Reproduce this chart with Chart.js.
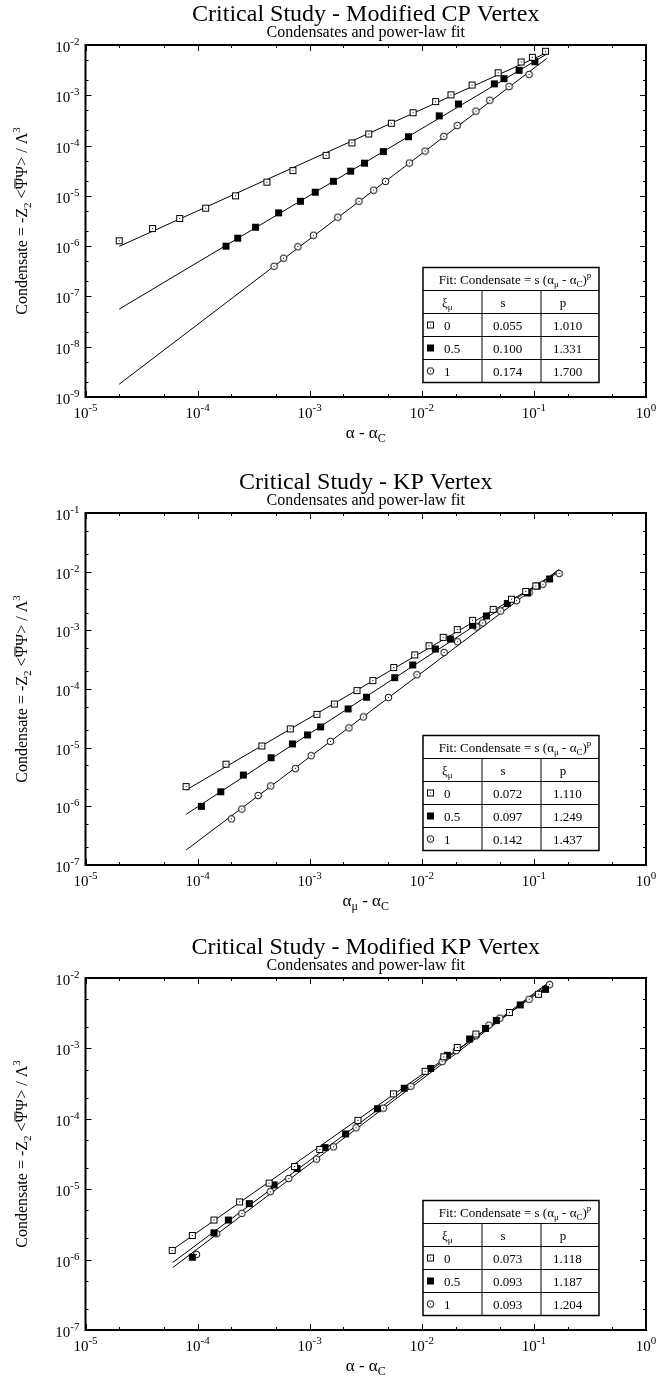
<!DOCTYPE html>
<html>
<head>
<meta charset="utf-8">
<script src="https://cdn.jsdelivr.net/npm/chart.js@4.4.1/dist/chart.umd.min.js"></script>
<style>
  body { margin: 0; background: #fff; }
  canvas { position: absolute; left: 0; }
</style>
</head>
<body>
<canvas id="cp" width="657" height="468" style="top:0px"></canvas>
<canvas id="kp" width="657" height="465" style="top:468px"></canvas>
<canvas id="mkp" width="657" height="449" style="top:933px"></canvas>
<script>
// ---- Modified CP Vertex ----
const cpX0 = [2.0e-5, 3.96e-5, 6.93e-5, 1.18e-4, 2.18e-4, 4.15e-4, 7.08e-4, 1.40e-3, 2.38e-3, 3.36e-3, 5.35e-3, 8.36e-3, 1.33e-2, 1.82e-2, 2.81e-2, 4.80e-2, 7.69e-2, 9.70e-2, 1.27e-1];
const cpY0 = [1.28e-6, 2.24e-6, 3.55e-6, 5.7e-6, 1.0e-5, 1.87e-5, 3.18e-5, 6.4e-5, 1.13e-4, 1.7e-4, 2.78e-4, 4.5e-4, 7.5e-4, 1.02e-3, 1.6e-3, 2.8e-3, 4.6e-3, 5.7e-3, 7.5e-3];
const cpX05 = [1.79e-4, 2.28e-4, 3.29e-4, 5.28e-4, 8.26e-4, 1.12e-3, 1.63e-3, 2.32e-3, 3.08e-3, 4.54e-3, 7.60e-3, 1.43e-2, 2.12e-2, 4.44e-2, 5.41e-2, 7.38e-2, 1.02e-1];
const cpY05 = [1.0e-6, 1.44e-6, 2.38e-6, 4.6e-6, 7.8e-6, 1.18e-5, 1.95e-5, 3.1e-5, 4.47e-5, 7.6e-5, 1.5e-4, 3.9e-4, 6.7e-4, 1.69e-3, 2.14e-3, 3.14e-3, 4.67e-3];
const cpX1 = [4.81e-4, 5.86e-4, 7.85e-4, 1.08e-3, 1.78e-3, 2.75e-3, 3.72e-3, 4.74e-3, 7.74e-3, 1.07e-2, 1.57e-2, 2.07e-2, 3.04e-2, 4.04e-2, 6.00e-2, 9.06e-2];
const cpY1 = [3.98e-7, 5.75e-7, 9.7e-7, 1.65e-6, 3.77e-6, 7.8e-6, 1.3e-5, 1.93e-5, 4.5e-5, 7.76e-5, 1.52e-4, 2.5e-4, 4.85e-4, 7.97e-4, 1.49e-3, 2.6e-3];
const cpFitX = [2e-5, 0.13];
const cpFitY0 = [9.9e-7, 7.0e-3];
const cpFitY05 = [5.6e-8, 6.6e-3];
const cpFitY1 = [1.8e-9, 5.4e-3];
const cpS = ["0.055", "0.100", "0.174"];
const cpP = ["1.010", "1.331", "1.700"];

// ---- KP Vertex ----
const kpX0 = [7.89e-5, 1.79e-4, 3.74e-4, 6.71e-4, 1.16e-3, 1.66e-3, 2.64e-3, 3.66e-3, 5.62e-3, 8.65e-3, 1.16e-2, 1.55e-2, 2.07e-2, 2.84e-2, 4.33e-2, 6.31e-2, 8.45e-2, 1.04e-1];
const kpY0 = [2.17e-6, 5.24e-6, 1.07e-5, 2.09e-5, 3.7e-5, 5.54e-5, 9.4e-5, 1.39e-4, 2.32e-4, 3.81e-4, 5.47e-4, 7.6e-4, 1.03e-3, 1.48e-3, 2.28e-3, 3.39e-3, 4.6e-3, 5.7e-3];
const kpX05 = [1.08e-4, 1.61e-4, 2.56e-4, 4.52e-4, 7.01e-4, 9.57e-4, 1.25e-3, 2.20e-3, 3.21e-3, 5.73e-3, 8.30e-3, 1.32e-2, 1.80e-2, 2.84e-2, 3.77e-2, 5.79e-2, 8.75e-2, 1.07e-1, 1.38e-1];
const kpY05 = [1.0e-6, 1.77e-6, 3.42e-6, 6.74e-6, 1.16e-5, 1.65e-5, 2.26e-5, 4.58e-5, 7.25e-5, 1.56e-4, 2.57e-4, 4.8e-4, 7.1e-4, 1.22e-3, 1.76e-3, 2.86e-3, 4.35e-3, 5.7e-3, 7.5e-3];
const kpX1 = [2.0e-4, 2.48e-4, 3.47e-4, 4.49e-4, 7.45e-4, 1.03e-3, 1.53e-3, 2.24e-3, 3.01e-3, 5.04e-3, 9.04e-3, 1.58e-2, 2.08e-2, 3.09e-2, 3.49e-2, 5.05e-2, 7.00e-2, 9.06e-2, 1.20e-1, 1.68e-1];
const kpY1 = [6.1e-7, 9.0e-7, 1.53e-6, 2.23e-6, 4.4e-6, 7.3e-6, 1.28e-5, 2.17e-5, 3.34e-5, 7.16e-5, 1.75e-4, 4.2e-4, 6.4e-4, 1.14e-3, 1.34e-3, 2.14e-3, 3.2e-3, 4.4e-3, 6.1e-3, 9.3e-3];
const kpFitX = [7.9e-5, 0.168];
const kpFitY0 = [1.9e-6, 9.9e-3];
const kpFitY05 = [7.3e-7, 1.05e-2];
const kpFitY1 = [1.8e-7, 1.1e-2];
const kpS = ["0.072", "0.097", "0.142"];
const kpP = ["1.110", "1.249", "1.437"];

// ---- Modified KP Vertex ----
const mkpX0 = [5.94e-5, 8.97e-5, 1.40e-4, 2.37e-4, 4.34e-4, 7.33e-4, 1.23e-3, 2.69e-3, 5.58e-3, 1.07e-2, 1.57e-2, 2.07e-2, 3.04e-2, 6.05e-2, 1.10e-1];
const mkpY0 = [1.35e-6, 2.2e-6, 3.65e-6, 6.6e-6, 1.22e-5, 2.1e-5, 3.67e-5, 9.5e-5, 2.26e-4, 4.73e-4, 7.6e-4, 1.03e-3, 1.6e-3, 3.23e-3, 5.87e-3];
const mkpX05 = [8.97e-5, 1.40e-4, 1.88e-4, 2.89e-4, 4.81e-4, 7.71e-4, 1.37e-3, 2.09e-3, 4.02e-3, 6.97e-3, 1.20e-2, 1.69e-2, 2.67e-2, 3.70e-2, 4.62e-2, 7.55e-2, 1.27e-1];
const mkpY05 = [1.08e-6, 2.4e-6, 3.65e-6, 6.24e-6, 1.15e-5, 1.97e-5, 3.9e-5, 6.1e-5, 1.39e-4, 2.72e-4, 5.2e-4, 8.0e-4, 1.36e-3, 1.92e-3, 2.49e-3, 4.15e-3, 6.9e-3];
const mkpX1 = [9.77e-5, 1.48e-4, 2.48e-4, 4.45e-4, 6.50e-4, 1.15e-3, 1.63e-3, 2.59e-3, 4.54e-3, 8.00e-3, 1.52e-2, 2.03e-2, 3.04e-2, 3.97e-2, 4.97e-2, 9.06e-2, 1.38e-1];
const mkpY1 = [1.18e-6, 2.33e-6, 4.54e-6, 9.2e-6, 1.42e-5, 2.67e-5, 4.0e-5, 7.46e-5, 1.42e-4, 2.9e-4, 6.5e-4, 9.3e-4, 1.51e-3, 2.14e-3, 2.69e-3, 4.99e-3, 8.05e-3];
const mkpFitX = [6e-5, 0.14];
const mkpFitY0 = [1.39e-6, 8.1e-3];
const mkpFitY05 = [9.1e-7, 9.0e-3];
const mkpFitY1 = [7.7e-7, 8.7e-3];
const mkpS = ["0.073", "0.093", "0.093"];
const mkpP = ["1.118", "1.187", "1.204"];

const xiLabels = ["0", "0.5", "1"];

const FONT = "'Liberation Serif', 'Times New Roman', 'DejaVu Serif', serif";
const PLOT_H = 352;

// markers
function marker(kind) {
  const c = document.createElement("canvas");
  c.width = 9; c.height = 9;
  const g = c.getContext("2d");
  g.strokeStyle = "#000"; g.fillStyle = "#fff"; g.lineWidth = 1;
  if (kind === "sq") {
    g.fillRect(1, 1, 7, 7);
    g.strokeRect(1.5, 1.5, 6, 6);
    g.fillStyle = "#000"; g.fillRect(4, 4, 1, 1);
  } else if (kind === "fill") {
    g.fillStyle = "#000"; g.fillRect(1, 1, 7, 7);
  } else {
    g.beginPath(); g.arc(4.5, 4.5, 3.3, 0, Math.PI * 2);
    g.fill(); g.stroke();
    g.fillStyle = "#000"; g.fillRect(4, 4, 1, 1);
  }
  return c;
}
const markers = [marker("sq"), marker("fill"), marker("circ")];

function pts(xs, ys) { return xs.map((x, i) => ({ x: x, y: ys[i] })); }

// rich text: parts = [text, size, dy, overline]
function rich(ctx, parts, x, y, align) {
  let w = 0;
  parts.forEach(p => { ctx.font = p[1] + "px " + FONT; p.w = ctx.measureText(p[0]).width; w += p.w; });
  let cx = align === "center" ? x - w / 2 : align === "right" ? x - w : x;
  ctx.textAlign = "left"; ctx.textBaseline = "alphabetic";
  parts.forEach(p => {
    ctx.font = p[1] + "px " + FONT;
    ctx.fillText(p[0], cx, y + (p[2] || 0));
    if (p[3]) {
      ctx.fillRect(cx + 1, y + (p[2] || 0) - p[1] * 0.78, p.w - 2, 1);
    }
    cx += p.w;
  });
}

const decor = {
  id: "decor",
  afterDatasetsDraw(chart) {
    const o = chart.options.plugins.decor;
    const ctx = chart.ctx, a = chart.chartArea;
    const xs = chart.scales.x, ys = chart.scales.y;
    ctx.save();
    ctx.fillStyle = "#000"; ctx.strokeStyle = "#000";

    // ticks on all four sides, pointing inward
    ctx.lineWidth = 1;
    ctx.beginPath();
    const minor = [2, 5];
    for (let e = Math.round(Math.log10(xs.min)); e <= Math.round(Math.log10(xs.max)); e++) {
      const v = Math.pow(10, e);
      const px = Math.round(xs.getPixelForValue(v)) + 0.5;
      ctx.moveTo(px, a.bottom); ctx.lineTo(px, a.bottom - 6);
      ctx.moveTo(px, a.top); ctx.lineTo(px, a.top + 6);
      minor.forEach(m => {
        if (v * m >= xs.max) return;
        const q = Math.round(xs.getPixelForValue(v * m)) + 0.5;
        ctx.moveTo(q, a.bottom); ctx.lineTo(q, a.bottom - 3);
        ctx.moveTo(q, a.top); ctx.lineTo(q, a.top + 3);
      });
    }
    for (let e = Math.round(Math.log10(ys.min)); e <= Math.round(Math.log10(ys.max)); e++) {
      const v = Math.pow(10, e);
      const py = Math.round(ys.getPixelForValue(v)) + 0.5;
      ctx.moveTo(a.left, py); ctx.lineTo(a.left + 6, py);
      ctx.moveTo(a.right, py); ctx.lineTo(a.right - 6, py);
      minor.forEach(m => {
        if (v * m >= ys.max) return;
        const q = Math.round(ys.getPixelForValue(v * m)) + 0.5;
        ctx.moveTo(a.left, q); ctx.lineTo(a.left + 3, q);
        ctx.moveTo(a.right, q); ctx.lineTo(a.right - 3, q);
      });
    }
    ctx.stroke();

    // frame
    ctx.lineWidth = 2;
    ctx.strokeRect(a.left, a.top, a.right - a.left, a.bottom - a.top);

    // tick labels
    for (let e = Math.round(Math.log10(xs.min)); e <= Math.round(Math.log10(xs.max)); e++) {
      const px = xs.getPixelForValue(Math.pow(10, e));
      rich(ctx, [["10", 15, 0], [String(e).replace("-", "-"), 11, -7]], px, a.bottom + 21, "center");
    }
    for (let e = Math.round(Math.log10(ys.min)); e <= Math.round(Math.log10(ys.max)); e++) {
      const py = ys.getPixelForValue(Math.pow(10, e));
      rich(ctx, [["10", 15, 0], [String(e), 11, -7]], a.left - 6, py + 7, "right");
    }

    const cx = (a.left + a.right) / 2;
    // titles
    rich(ctx, [[o.title, 24, 0]], cx, a.top - 24, "center");
    rich(ctx, [["Condensates and power-law fit", 16, 0]], cx, a.top - 8, "center");

    // x axis title
    const xt = o.xmu
      ? [["α", 17, 0], ["μ", 12, 4], [" - α", 17, 0], ["C", 12, 4]]
      : [["α - α", 17, 0], ["C", 12, 4]];
    rich(ctx, xt, cx, a.bottom + 41, "center");

    // y axis title
    ctx.save();
    ctx.translate(22, (a.top + a.bottom) / 2);
    ctx.rotate(-Math.PI / 2);
    rich(ctx, [["Condensate = -Z", 16, 0], ["2", 11, 4], [" <", 16, 0], ["Ψ", 16, 0, true],
      ["Ψ> / Λ", 16, 0], ["3", 11, -7]], 0, 5, "center");
    ctx.restore();

    // fit table
    const tl = a.left + 337.5, tw = 176, rh = 23;
    const tt = a.bottom - 14.5 - rh * 5;
    ctx.fillStyle = "#fff";
    ctx.fillRect(tl, tt, tw, rh * 5);
    ctx.fillStyle = "#000";
    ctx.lineWidth = 1;
    ctx.beginPath();
    for (let r = 1; r < 5; r++) { ctx.moveTo(tl, tt + r * rh); ctx.lineTo(tl + tw, tt + r * rh); }
    [59, 118].forEach(c => { ctx.moveTo(tl + c, tt + rh); ctx.lineTo(tl + c, tt + 5 * rh); });
    ctx.stroke();
    ctx.lineWidth = 1.5;
    ctx.strokeRect(tl, tt, tw, rh * 5);
    rich(ctx, [["Fit: Condensate = s (α", 13, 0], ["μ", 9, 3], [" - α", 13, 0], ["C", 9, 3], [")", 13, 0], ["p", 9, -6]],
      tl + tw / 2 + 4, tt + rh / 2 + 4.5, "center");
    rich(ctx, [["ξ", 13, 0], ["μ", 9, 3]], tl + 19, tt + rh * 1.5 + 4.5, "left");
    rich(ctx, [["s", 13, 0]], tl + 80, tt + rh * 1.5 + 4.5, "center");
    rich(ctx, [["p", 13, 0]], tl + 140, tt + rh * 1.5 + 4.5, "center");
    for (let i = 0; i < 3; i++) {
      const ry = tt + rh * (2.5 + i);
      ctx.drawImage(markers[i], tl + 3, ry - 4.5);
      rich(ctx, [[xiLabels[i], 13, 0]], tl + 21, ry + 4.5, "left");
      rich(ctx, [[o.s[i], 13, 0]], tl + 70, ry + 4.5, "left");
      rich(ctx, [[o.p[i], 13, 0]], tl + 130, ry + 4.5, "left");
    }
    ctx.restore();
  }
};

function fitLine(xs, ys) {
  return { data: pts(xs, ys), showLine: true, borderColor: "#000", borderWidth: 1,
    pointRadius: 0, order: 2 };
}
function scatter(xs, ys, i) {
  return { data: pts(xs, ys), showLine: false, pointStyle: markers[i], pointRadius: 4, order: 1 };
}

function makeChart(id, ymin, ymax, sets, deco) {
  const cv = document.getElementById(id);
  return new Chart(cv, {
    type: "scatter",
    data: { datasets: sets },
    options: {
      responsive: false,
      animation: false,
      devicePixelRatio: 1,
      layout: { padding: { left: 85.5, right: 11, top: 45, bottom: cv.height - 45 - PLOT_H } },
      scales: {
        x: { type: "logarithmic", min: 1e-5, max: 1, display: false },
        y: { type: "logarithmic", min: ymin, max: ymax, display: false }
      },
      plugins: { legend: { display: false }, tooltip: { enabled: false }, decor: deco }
    },
    plugins: [decor]
  });
}

makeChart("cp", 1e-9, 1e-2, [
  fitLine(cpFitX, cpFitY0), fitLine(cpFitX, cpFitY05), fitLine(cpFitX, cpFitY1),
  scatter(cpX0, cpY0, 0), scatter(cpX05, cpY05, 1), scatter(cpX1, cpY1, 2)
], { title: "Critical Study - Modified CP Vertex", xmu: false, s: cpS, p: cpP });

makeChart("kp", 1e-7, 1e-1, [
  fitLine(kpFitX, kpFitY0), fitLine(kpFitX, kpFitY05), fitLine(kpFitX, kpFitY1),
  scatter(kpX0, kpY0, 0), scatter(kpX05, kpY05, 1), scatter(kpX1, kpY1, 2)
], { title: "Critical Study - KP Vertex", xmu: true, s: kpS, p: kpP });

makeChart("mkp", 1e-7, 1e-2, [
  fitLine(mkpFitX, mkpFitY0), fitLine(mkpFitX, mkpFitY05), fitLine(mkpFitX, mkpFitY1),
  scatter(mkpX0, mkpY0, 0), scatter(mkpX05, mkpY05, 1), scatter(mkpX1, mkpY1, 2)
], { title: "Critical Study - Modified KP Vertex", xmu: false, s: mkpS, p: mkpP });
</script>
</body>
</html>
